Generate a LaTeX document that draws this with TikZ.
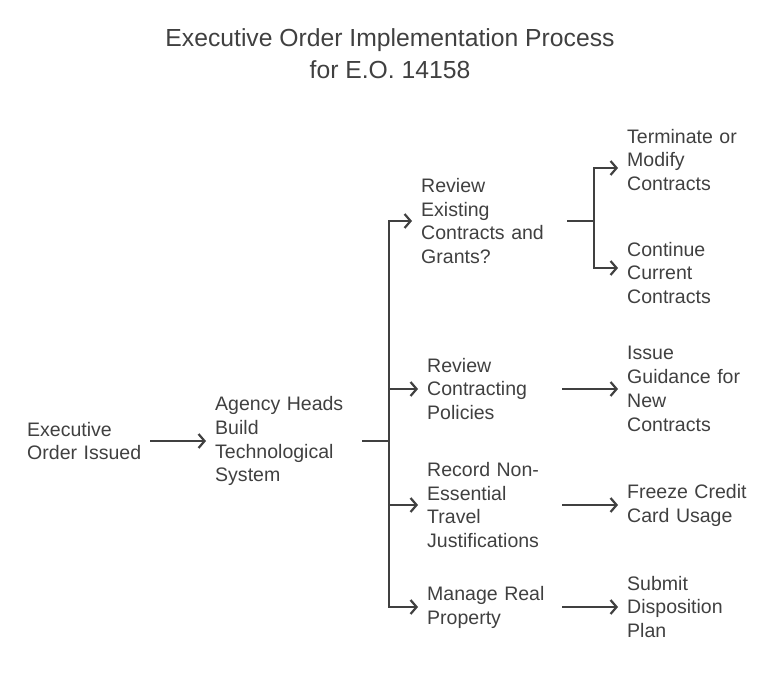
\documentclass[tikz,border=0pt]{standalone}
\usepackage{fontspec}
\setmainfont{Liberation Sans}
\usetikzlibrary{arrows.meta}
\definecolor{ink}{HTML}{404040}
\begin{document}
\begin{tikzpicture}[x=1bp,y=-1bp,
  lbl/.style={anchor=west, inner sep=0pt, align=left, text=ink, font=\fontsize{19.6}{24}\selectfont},
  arr/.style={draw=ink, line width=2.2bp, -{Straight Barb[length=6bp,width=14bp]}, shorten >=9bp},
  ln/.style={draw=ink, line width=2.2bp}]
\useasboundingbox (0,0) rectangle (782,694);
\node[font=\fontsize{24.8}{32}\selectfont, text=ink, align=center, inner sep=0pt] (title) at (390,54) {Executive Order Implementation Process\\for E.O. 14158};
\node[lbl, text width=123bp] (eo) at (27,441) {Executive\\Order Issued};
\node[lbl, text width=147bp] (ag) at (215,441) {Agency Heads\\Build\\Technological\\System};
\node[lbl, text width=146bp] (rev) at (421,221) {Review\\Existing\\Contracts and\\Grants?};
\node[lbl, text width=135bp] (pol) at (427,389) {Review\\Contracting\\Policies};
\node[lbl, text width=135bp] (rec) at (427,505) {Record Non-\\Essential\\Travel\\Justifications};
\node[lbl, text width=135bp] (man) at (427,607) {Manage Real\\Property};
\node[lbl, text width=130bp] (term) at (627,160) {Terminate or\\Modify\\Contracts};
\node[lbl, text width=130bp] (cont) at (627,273) {Continue\\Current\\Contracts};
\node[lbl, text width=130bp] (iss) at (627,389) {Issue\\Guidance for\\New\\Contracts};
\node[lbl, text width=130bp] (frz) at (627,505) {Freeze Credit\\Card Usage};
\node[lbl, text width=130bp] (sub) at (627,607) {Submit\\Disposition\\Plan};
\coordinate (j1) at (389,441);
\coordinate (j2) at (594,221);
\draw[arr] (eo.east |- j1) -- (ag.west |- j1);
\draw[ln] (ag.east |- j1) -- (j1);
\draw[arr] (j1) |- (rev.west);
\draw[arr] (j1) |- (pol.west);
\draw[arr] (j1) |- (rec.west);
\draw[arr] (j1) |- (man.west);
\draw[ln] (rev.east) -- (j2);
\draw[arr] (j2) |- ([yshift=-8bp]term.west);
\draw[arr] (j2) |- ([yshift=5bp]cont.west);
\draw[arr] (pol.east) -- (iss.west);
\draw[arr] (rec.east) -- (frz.west);
\draw[arr] (man.east) -- (sub.west);
\end{tikzpicture}
\end{document}
